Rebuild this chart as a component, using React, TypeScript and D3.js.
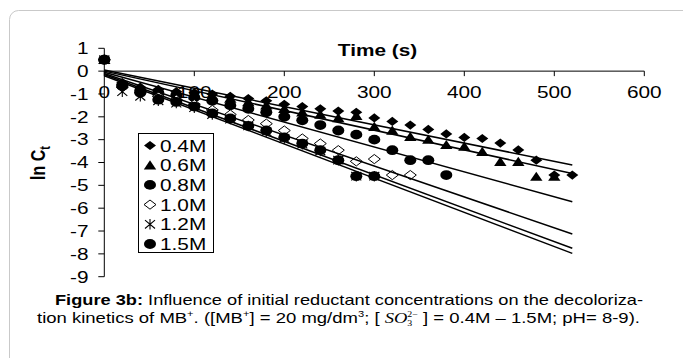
import * as React from 'react';
import * as d3 from 'd3';

// sampling times (s)
const times = [0, 20, 40, 60, 80, 100, 120, 140, 160, 180, 200, 220, 240, 260, 280, 300, 320, 340, 360, 380, 400, 420, 440, 460, 480, 500, 520];

// ln Ct values per reductant concentration
const s04 = [0.5, -0.5, -0.7, -0.8, -0.9, -0.95, -1.0, -1.1, -1.2, -1.3, -1.45, -1.55, -1.65, -1.75, -1.8, -2.05, -2.2, -2.36, -2.55, -2.75, -2.9, -2.95, -3.15, -3.45, -3.9, -4.55, -4.55];
const s06 = [0.5, -0.55, -0.75, -0.85, -0.95, -1.05, -1.1, -1.2, -1.35, -1.5, -1.65, -1.8, -1.9, -2.05, -1.95, -2.44, -2.6, -2.87, -3.0, -3.23, -3.3, -3.53, -3.97, -3.97, -4.62, -4.62];
const s08 = [0.5, -0.6, -0.85, -0.95, -1.05, -1.15, -1.3, -1.5, -1.65, -1.8, -2.0, -2.15, -2.36, -2.6, -2.78, -3.0, -3.46, -3.9, -3.9, -4.55];
const s10 = [0.5, -0.7, -0.95, -1.1, -1.25, -1.45, -1.7, -1.9, -2.14, -2.3, -2.6, -2.95, -3.17, -3.46, -3.95, -3.85, -4.55, -4.55];
const s12 = [0.5, -0.9, -1.1, -1.3, -1.4, -1.6, -1.9, -2.1, -2.4, -2.65, -2.95, -3.2, -3.5, -3.9, -4.6, -4.6];
const s15 = [0.5, -0.65, -0.95, -1.25, -1.35, -1.55, -1.85, -2.07, -2.4, -2.6, -2.9, -3.17, -3.46, -3.9, -4.6, -4.6];

const seriesNames = ['0.4M', '0.6M', '0.8M', '1.0M', '1.2M', '1.5M'];
const seriesValues = [s04, s06, s08, s10, s12, s15];
const seriesMarkers = ['diamond', 'triangle', 'circle', 'openDiamond', 'star', 'circle'];

// linear trend lines (ln Ct = a + b t), drawn from 0 to 520 s
const fitIntercepts = [0.05, 0.0, -0.05, -0.1, -0.15, -0.2];
const fitSlopes = [-0.0080, -0.00862, -0.0109, -0.01352, -0.01463, -0.01496];
const fitRange = [0, 520];

const xTicks = [0, 100, 200, 300, 400, 500, 600];
const yTicks = [1, 0, -1, -2, -3, -4, -5, -6, -7, -8, -9];

const STRETCH = 1.3;

function markerPath(kind: string) {
    if (kind === 'diamond' || kind === 'openDiamond') return 'M0,-4.6L6,0L0,4.6L-6,0Z';
    if (kind === 'triangle') return 'M0,-5L6.2,4.2L-6.2,4.2Z';
    if (kind === 'circle') return 'M-6,0A6,4.9 0 1,0 6,0A6,4.9 0 1,0 -6,0Z';
    return 'M-5,-4.2L5,4.2M-5,4.2L5,-4.2M0,-5.2L0,5.2';
}

function drawMarker(g: any, kind: string, x: number, y: number) {
    const p = g.append('path')
        .attr('d', markerPath(kind))
        .attr('transform', 'translate(' + x + ',' + y + ')');
    if (kind === 'openDiamond') {
        p.attr('fill', '#fff').attr('stroke', '#000').attr('stroke-width', 1);
    } else if (kind === 'star') {
        p.attr('fill', 'none').attr('stroke', '#000').attr('stroke-width', 1.1);
    } else {
        p.attr('fill', '#000');
    }
}

function stretchedText(g: any, x: number, y: number, txt: string, anchor: string, size: number, bold?: boolean) {
    return g.append('g')
        .attr('transform', 'translate(' + x + ',' + y + ') scale(' + STRETCH + ',1)')
        .append('text')
        .attr('text-anchor', anchor)
        .attr('font-family', 'Liberation Sans, Arial, sans-serif')
        .attr('font-size', size)
        .attr('font-weight', bold ? 'bold' : 'normal')
        .text(txt);
}

class DecolorChart extends React.Component<any, any> {
    ref = React.createRef<SVGSVGElement>();

    componentDidMount() {
        this.draw();
    }

    draw() {
        const svg = d3.select(this.ref.current);
        svg.selectAll('*').remove();

        const xScale = d3.scaleLinear().domain([0, 600]).range([104.3, 644.3]);
        const yScale = d3.scaleLinear().domain([-9, 1]).range([276.7, 48.3]);

        // panel frame
        svg.append('rect')
            .attr('x', 9.5).attr('y', 10.5)
            .attr('width', 720).attr('height', 400)
            .attr('rx', 9)
            .attr('fill', 'none')
            .attr('stroke', '#c9c9c9');

        const g = svg.append('g');

        // y axis
        g.append('line')
            .attr('x1', xScale(0)).attr('x2', xScale(0))
            .attr('y1', yScale(1)).attr('y2', yScale(-9))
            .attr('stroke', '#000');
        yTicks.forEach(function (t) {
            g.append('line')
                .attr('x1', xScale(0) - 6).attr('x2', xScale(0))
                .attr('y1', yScale(t)).attr('y2', yScale(t))
                .attr('stroke', '#000');
            stretchedText(g, 88.5, yScale(t) + 5.8, String(t).replace('-', '\u2212').replace('\u2212', '-'), 'end', 16);
        });

        // x axis at y = 0
        g.append('line')
            .attr('x1', xScale(0)).attr('x2', xScale(600))
            .attr('y1', yScale(0)).attr('y2', yScale(0))
            .attr('stroke', '#000');
        xTicks.forEach(function (t) {
            g.append('line')
                .attr('x1', xScale(t)).attr('x2', xScale(t))
                .attr('y1', yScale(0)).attr('y2', yScale(0) + 5)
                .attr('stroke', '#000');
            stretchedText(g, xScale(t), 97.6, String(t), 'middle', 16);
        });

        stretchedText(g, 377.5, 55.8, 'Time (s)', 'middle', 16, true);

        // y axis title
        const yt = g.append('g')
            .attr('transform', 'translate(45,163) rotate(-90) scale(1,' + STRETCH + ')')
            .append('text')
            .attr('text-anchor', 'middle')
            .attr('font-family', 'Liberation Sans, Arial, sans-serif')
            .attr('font-size', 16)
            .attr('font-weight', 'bold');
        yt.append('tspan').text('ln C');
        yt.append('tspan').attr('font-size', 11).attr('dy', 4).text('t');

        // data points
        const pts = svg.append('g');
        seriesValues.forEach(function (vals, i) {
            vals.forEach(function (v, j) {
                drawMarker(pts, seriesMarkers[i], xScale(times[j]), yScale(v));
            });
        });

        // trend lines
        const line = d3.line<number>()
            .x(function (t) { return xScale(t); })
            .y(function (t, k, arr) { return 0; });
        fitSlopes.forEach(function (b, i) {
            const a = fitIntercepts[i];
            const l = d3.line<number>()
                .x(function (t) { return xScale(t); })
                .y(function (t) { return yScale(a + b * t); });
            svg.append('path')
                .attr('d', l(fitRange))
                .attr('fill', 'none')
                .attr('stroke', '#000')
                .attr('stroke-width', 1.5);
        });

        // legend
        const lg = svg.append('g');
        lg.append('rect')
            .attr('x', 138.5).attr('y', 133.5)
            .attr('width', 75).attr('height', 119)
            .attr('fill', '#fff')
            .attr('stroke', '#000');
        seriesNames.forEach(function (name, i) {
            const cy = 145.5 + i * 19.7;
            drawMarker(lg, seriesMarkers[i], 150, cy);
            stretchedText(lg, 160, cy + 6, name, 'start', 16);
        });

        // caption
        const cap = svg.append('g').attr('font-family', 'Liberation Sans Narrow, Arial Narrow, Liberation Sans, Arial, sans-serif').attr('font-size', 15);
        const c1 = cap.append('text')
            .attr('x', 55).attr('y', 305)
            .attr('textLength', 588)
            .attr('lengthAdjust', 'spacingAndGlyphs');
        c1.append('tspan').attr('font-weight', 'bold').text('Figure 3b:');
        c1.append('tspan').text(' Influence of initial reductant concentrations on the decoloriza-');

        const c2 = cap.append('text')
            .attr('x', 37).attr('y', 323)
            .attr('textLength', 603)
            .attr('lengthAdjust', 'spacingAndGlyphs');
        c2.append('tspan').text('tion kinetics of  MB');
        c2.append('tspan').attr('font-size', 9).attr('dy', -6).text('+');
        c2.append('tspan').attr('dy', 6).text('. ([MB');
        c2.append('tspan').attr('font-size', 9).attr('dy', -6).text('+');
        c2.append('tspan').attr('dy', 6).text('] = 20 mg/dm');
        c2.append('tspan').attr('font-size', 9).attr('dy', -6).text('3');
        c2.append('tspan').attr('dy', 6).text('; [ ');
        c2.append('tspan').attr('font-family', 'Liberation Serif, Times New Roman, serif').attr('font-style', 'italic').text('SO');
        c2.append('tspan').attr('font-family', 'Liberation Serif, serif').attr('font-size', 8).attr('dy', 3).text('3');
        c2.append('tspan').attr('font-family', 'Liberation Serif, serif').attr('font-size', 8).attr('dx', -4).attr('dy', -9).text('2\u2212');
        c2.append('tspan').attr('dy', 6).text(' ] = 0.4M \u2013 1.5M; pH= 8-9).');
    }

    render() {
        return (
            <svg ref={this.ref} width={683} height={358}
                style={{ position: 'absolute', left: 0, top: 0, background: '#fff' }} />
        );
    }
}

export default function App() {
    return <DecolorChart />;
}
